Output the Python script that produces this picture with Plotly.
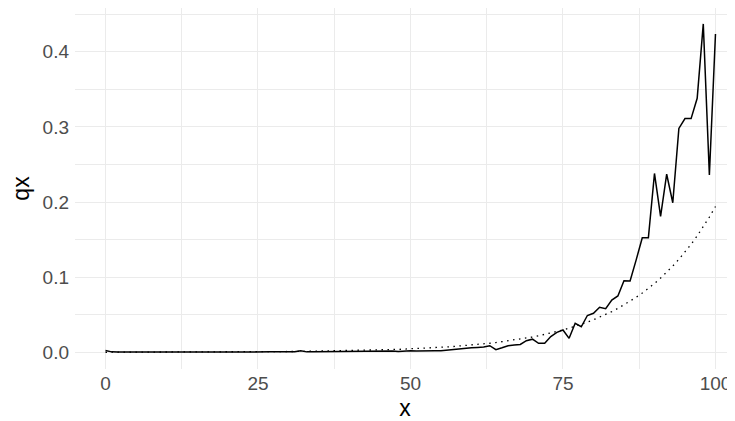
import plotly.graph_objects as go

ages = list(range(0, 101))

qx_observed = [
    0.0024, 0.0006, 0.0004, 0.0003, 0.0002, 0.0002, 0.0002, 0.0002, 0.0002, 0.0002,
    0.0002, 0.0002, 0.0002, 0.0003, 0.0003, 0.0004, 0.0005, 0.0006, 0.0007, 0.0005,
    0.0006, 0.0005, 0.0006, 0.0005, 0.0006, 0.0006, 0.0005, 0.0006, 0.0006, 0.0007,
    0.0008, 0.0009, 0.0022, 0.0006, 0.0008, 0.0009, 0.0010, 0.0009, 0.0011, 0.0010,
    0.0012, 0.0011, 0.0013, 0.0012, 0.0015, 0.0016, 0.0014, 0.0017, 0.0010, 0.0018,
    0.0022, 0.0018, 0.0022, 0.0024, 0.0021, 0.0020, 0.0030, 0.0040, 0.0050, 0.0052,
    0.0060, 0.0065, 0.0070, 0.0088, 0.0035, 0.0060, 0.0088, 0.0097, 0.0105, 0.0155,
    0.0175, 0.0120, 0.0120, 0.0210, 0.0265, 0.0297, 0.0186, 0.0386, 0.0340, 0.0490,
    0.0520, 0.0600, 0.0580, 0.0696, 0.0750, 0.0953, 0.0950, 0.1230, 0.1525, 0.1525,
    0.2380, 0.1810, 0.2370, 0.1990, 0.2980, 0.3110, 0.3110, 0.3380, 0.4370, 0.2360,
    0.4235,
]

qx_fitted = [
    0.0001, 0.0001, 0.0001, 0.0001, 0.0002, 0.0002, 0.0002, 0.0002, 0.0002, 0.0002,
    0.0002, 0.0003, 0.0003, 0.0003, 0.0003, 0.0003, 0.0004, 0.0004, 0.0004, 0.0005,
    0.0005, 0.0005, 0.0006, 0.0006, 0.0007, 0.0007, 0.0008, 0.0008, 0.0009, 0.0010,
    0.0010, 0.0011, 0.0012, 0.0013, 0.0014, 0.0015, 0.0016, 0.0017, 0.0019, 0.0020,
    0.0022, 0.0023, 0.0025, 0.0027, 0.0029, 0.0032, 0.0034, 0.0037, 0.0039, 0.0042,
    0.0046, 0.0049, 0.0053, 0.0057, 0.0062, 0.0066, 0.0072, 0.0077, 0.0083, 0.0090,
    0.0097, 0.0104, 0.0112, 0.0121, 0.0130, 0.0141, 0.0151, 0.0163, 0.0176, 0.0190,
    0.0204, 0.0220, 0.0238, 0.0256, 0.0276, 0.0297, 0.0321, 0.0346, 0.0373, 0.0402,
    0.0433, 0.0467, 0.0503, 0.0542, 0.0584, 0.0630, 0.0679, 0.0732, 0.0789, 0.0850,
    0.0916, 0.0988, 0.1065, 0.1148, 0.1237, 0.1333, 0.1437, 0.1549, 0.1670, 0.1800,
    0.1940,
]

x_ticks = [0, 25, 50, 75, 100]
y_ticks = [0.0, 0.1, 0.2, 0.3, 0.4]
y_tick_labels = ["0.0", "0.1", "0.2", "0.3", "0.4"]

FONT = "Liberation Sans, Arial, sans-serif"
GRID = "#EBEBEB"

fig = go.Figure()
fig.add_trace(go.Scatter(
    x=ages, y=qx_fitted, mode="lines",
    line=dict(color="black", width=1.3, dash="1.5px,4.5px"),
    showlegend=False, hoverinfo="skip",
))
fig.add_trace(go.Scatter(
    x=ages, y=qx_observed, mode="lines",
    line=dict(color="black", width=1.5),
    showlegend=False,
))

# The page body has an 8px default margin, so the figure is 8px smaller.
fig.update_layout(
    width=727, height=413,
    margin=dict(l=67, r=0, t=0, b=52),
    paper_bgcolor="white", plot_bgcolor="white",
    font=dict(family=FONT, color="black"),
    xaxis=dict(
        range=[-5, 103.2], automargin=False,
        tickmode="array", tickvals=x_ticks, ticktext=[str(v) for v in x_ticks],
        showgrid=True, gridcolor=GRID, gridwidth=1.1,
        minor=dict(tickmode="array", tickvals=[12.5, 37.5, 62.5, 87.5],
                   showgrid=True, gridcolor=GRID, gridwidth=0.6),
        zeroline=False, showline=False, ticks="",
        tickfont=dict(size=19, color="#4D4D4D", family=FONT),
        title=dict(text="x", font=dict(size=23, color="black", family=FONT), standoff=9),
        ticklabelstandoff=1,
    ),
    yaxis=dict(
        range=[-0.0222, 0.4582], automargin=False,
        tickmode="array", tickvals=y_ticks, ticktext=y_tick_labels,
        showgrid=True, gridcolor=GRID, gridwidth=1.1,
        minor=dict(tickmode="array", tickvals=[0.05, 0.15, 0.25, 0.35, 0.45],
                   showgrid=True, gridcolor=GRID, gridwidth=0.6),
        zeroline=False, showline=False, ticks="",
        tickfont=dict(size=19, color="#4D4D4D", family=FONT),
        title=dict(text="qx", font=dict(size=23, color="black", family=FONT), standoff=6),
        ticklabelstandoff=5,
    ),
)

fig.write_html("out.html")
